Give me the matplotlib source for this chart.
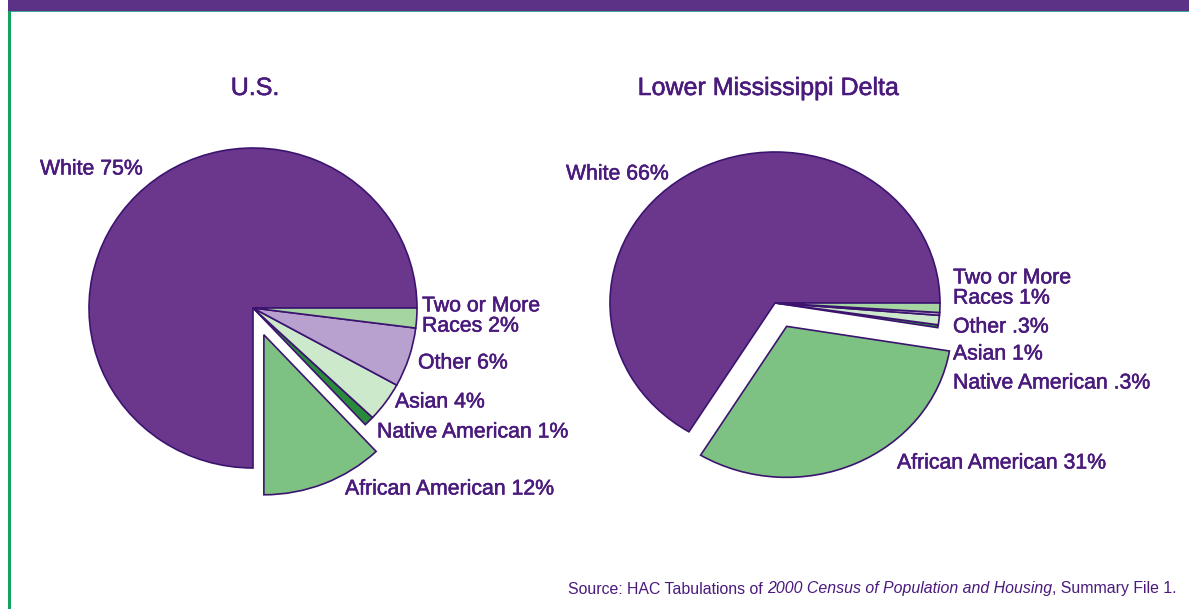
import matplotlib
matplotlib.use("Agg")
import matplotlib.pyplot as plt
from matplotlib.patches import Rectangle
import matplotlib.patheffects as pe

plt.rcParams['font.family'] = ['Liberation Sans', 'DejaVu Sans']

# ---- data ----
categories = ["White", "African American", "Native American", "Asian", "Other", "Two or More Races"]
us_values = [75, 12, 1, 4, 6, 2]
delta_values = [66, 31, 0.3, 1, 0.3, 1]
us_labels = ["White 75%", "African American 12%", "Native American 1%", "Asian 4%", "Other 6%", "Two or More\nRaces 2%"]
delta_labels = ["White 66%", "African American 31%", "Native American .3%", "Asian 1%", "Other .3%", "Two or More\nRaces 1%"]
titles = ["U.S.", "Lower Mississippi Delta"]
source_parts = ["Source: HAC Tabulations of ", "2000 Census of Population and Housing", ", Summary File 1."]

# ---- style ----
colors = ["#6b378d", "#7dc283", "#2a8a3c", "#cde9cb", "#b9a1cf", "#a5d6a2"]
edge = "#3c1470"
txt = "#4a1a7c"
W, H = 1189, 609
fig = plt.figure(figsize=(W / 100, H / 100), dpi=100)
fig.patch.set_facecolor("white")
thick = [pe.withStroke(linewidth=0.4, foreground=txt)]

# top band and left rule
fig.patches.append(Rectangle((8 / W, 1 - 11 / H), 1 - 8 / W, 11 / H, transform=fig.transFigure,
                             facecolor="#5b3286", edgecolor="none"))
fig.patches.append(Rectangle((8 / W, 1 - 12 / H), 1 - 8 / W, 1.2 / H, transform=fig.transFigure,
                             facecolor="#3fa59a", edgecolor="none"))
fig.patches.append(Rectangle((8 / W, 0), 3 / W, 1 - 11 / H, transform=fig.transFigure,
                             facecolor="#14a35e", edgecolor="none"))


def fx(px):
    return px / W


def fy(py):
    return 1 - py / H


def make_pie(values, cx, cy, rx, ry, explode_amt):
    half = 215
    ax = fig.add_axes([fx(cx - half), fy(cy + half), 2 * half / W, 2 * half / H])
    explode = [0, explode_amt, 0, 0, 0, 0]
    ax.pie(values, colors=colors, explode=explode, startangle=0, counterclock=True,
           radius=1, frame=True,
           wedgeprops=dict(edgecolor=edge, linewidth=1.2))
    ax.set_xlim(-half / rx, half / rx)
    ax.set_ylim(-half / ry, half / ry)
    ax.set_aspect('auto')
    ax.axis('off')
    return ax


make_pie(us_values, 253, 308, 164, 160, 0.18)
make_pie(delta_values, 775, 303, 165, 151, 0.17)

fs = 15.3
# titles
fig.text(fx(255), fy(88), titles[0], fontsize=18, color=txt, ha="center", va="center", path_effects=thick)
fig.text(fx(768), fy(88), titles[1], fontsize=18, color=txt, ha="center", va="center", path_effects=thick)

# labels (x left, y center)
us_pos = [(40, 169), (345, 489), (377, 432), (395, 402), (418, 363), (422, 316)]
for lab, (x, y) in zip(us_labels, us_pos):
    fig.text(fx(x), fy(y), lab, fontsize=fs, color=txt, ha="left", va="center", linespacing=1.08,
             path_effects=thick)

delta_pos = [(566, 174), (897, 463), (953, 383), (953, 354), (953, 327), (953, 288)]
for lab, (x, y) in zip(delta_labels, delta_pos):
    fig.text(fx(x), fy(y), lab, fontsize=fs, color=txt, ha="left", va="center", linespacing=1.08,
             path_effects=thick)

# source line with mixed styles
fig.canvas.draw()
r = fig.canvas.get_renderer()
x0 = 568
styles = ["normal", "italic", "normal"]
for part, st in zip(source_parts, styles):
    t = fig.text(fx(x0), fy(589), part, fontsize=11.4, color=txt, ha="left", va="center", style=st)
    bb = t.get_window_extent(renderer=r)
    x0 += bb.width

fig.savefig("out.png", dpi=100, facecolor="white")
